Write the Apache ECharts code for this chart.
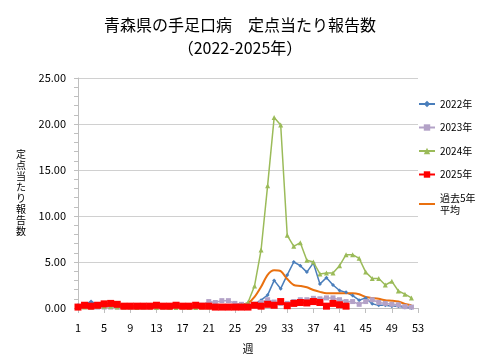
<!DOCTYPE html>
<html><head><meta charset="utf-8">
<script src="https://cdn.jsdelivr.net/npm/echarts@6/dist/echarts.min.js"></script>
<style>html,body{margin:0;padding:0;background:#fff}#c{width:480px;height:360px}</style>
</head><body><div id="c"></div>
<script>
const weeks = Array.from({length:53},(_,i)=>String(i+1));
const y2022 = [0.3,0.4,0.7,0.4,0.3,0.2,0.2,0.1,0.1,0.1,0.1,0.1,0.1,0.1,0.1,0.1,0.1,0.1,0.0,0.1,0.1,0.1,0.1,0.1,0.1,0.2,0.3,0.4,0.85,1.4,3.0,2.1,3.6,5.0,4.6,3.9,4.9,2.6,3.3,2.5,1.9,1.7,1.35,0.85,1.1,0.45,0.3,0.3,0.2,0.2,0.05,0.0];
const y2023 = [0.1,0.15,0.1,0.1,0.1,0.1,0.1,0.1,0.1,0.1,0.1,0.1,0.1,0.1,0.1,0.15,0.1,0.1,0.2,0.3,0.7,0.6,0.8,0.8,0.5,0.4,0.3,0.4,0.6,0.9,0.65,0.5,0.5,0.7,0.9,0.9,1.05,1.0,1.1,1.1,0.9,0.7,0.7,0.4,0.7,0.9,0.6,0.5,0.4,0.35,0.15,0.1];
const y2024 = [0.1,0.1,0.1,0.15,0.2,0.2,0.1,0.1,0.1,0.05,0.1,0.1,0.05,0.1,0.05,0.05,0.1,0.05,0.05,0.1,0.1,0.1,0.1,0.15,0.2,0.3,0.6,2.4,6.3,13.3,20.7,19.9,7.9,6.7,7.1,5.2,5.0,3.7,3.8,3.8,4.6,5.8,5.8,5.4,3.9,3.2,3.2,2.5,2.9,1.85,1.5,1.1];
const y2025 = [0.1,0.3,0.2,0.3,0.45,0.5,0.4,0.2,0.2,0.2,0.2,0.2,0.3,0.2,0.2,0.3,0.2,0.2,0.3,0.2,0.2,0.1,0.1,0.1,0.1,0.1,0.1,0.3,0.2,0.4,0.3,0.7,0.25,0.5,0.6,0.55,0.7,0.6,0.2,0.5,0.35,0.2];
const avg5 = [0.3,0.35,0.4,0.35,0.35,0.3,0.3,0.25,0.2,0.2,0.2,0.2,0.2,0.2,0.2,0.2,0.2,0.2,0.2,0.2,0.25,0.25,0.3,0.3,0.3,0.3,0.5,1.2,2.3,3.6,4.1,4.0,3.15,2.5,2.4,2.25,1.95,1.75,1.6,1.6,1.6,1.6,1.6,1.5,1.2,1.1,1.0,0.85,0.8,0.7,0.45,0.3];
const yTicks = [0,5,10,15,20,25];

const chart = echarts.init(document.getElementById('c'));
const ff = '"Noto Sans CJK JP","Noto Sans",sans-serif';
chart.setOption({
  animation:false,
  textStyle:{fontFamily:ff},
  title:{text:'青森県の手足口病　定点当たり報告数\n（2022-2025年）',left:'center',top:8,
    textStyle:{fontSize:16,fontWeight:'normal',color:'#000',lineHeight:23,fontFamily:ff}},
  grid:{left:78,right:62,top:78,bottom:52},
  legend:{orient:'vertical',left:413,top:93,itemGap:11.5,itemWidth:16,itemHeight:8,
    textStyle:{fontSize:10,color:'#000',lineHeight:12},
    data:['2022年','2023年','2024年','2025年',{name:'過去5年\n平均',itemStyle:{opacity:0}}]},
  xAxis:{type:'category',data:weeks,boundaryGap:false,
    name:'週',nameLocation:'middle',nameGap:35,nameTextStyle:{fontSize:11,color:'#000'},
    axisLine:{lineStyle:{color:'#bfbfbf'}},
    axisTick:{show:true,interval:3,alignWithLabel:true,lineStyle:{color:'#bfbfbf'}},
    axisLabel:{interval:3,fontSize:11,color:'#000',margin:14}},
  yAxis:{type:'value',min:yTicks[0],max:yTicks[yTicks.length-1],interval:5,
    name:'定\n点\n当\nた\nり\n報\n告\n数',nameLocation:'middle',nameRotate:0,nameGap:52,
    nameTextStyle:{fontSize:10,color:'#000',lineHeight:11},
    axisLine:{show:true,lineStyle:{color:'#bfbfbf'}},
    axisTick:{show:true,length:4,lineStyle:{color:'#bfbfbf'}},
    minorTick:{show:true,splitNumber:5,length:4,lineStyle:{color:'#bfbfbf'}},
    splitLine:{lineStyle:{color:'#d0d0d0'}},
    axisLabel:{fontSize:11,color:'#000',margin:12,formatter:v=>v.toFixed(2)}},
  series:[
    {name:'2022年',type:'line',data:y2022,symbol:'diamond',symbolSize:4,showAllSymbol:true,
      itemStyle:{color:'#4a7ebb'},lineStyle:{width:1.5,color:'#4a7ebb'}},
    {name:'2023年',type:'line',data:y2023,symbol:'rect',symbolSize:5,showAllSymbol:true,
      itemStyle:{color:'#b3a2c7'},lineStyle:{width:1.5,color:'#b3a2c7'}},
    {name:'2024年',type:'line',data:y2024,symbol:'triangle',symbolSize:5,showAllSymbol:true,
      itemStyle:{color:'#9bbb59'},lineStyle:{width:1.5,color:'#9bbb59'}},
    {name:'2025年',type:'line',data:y2025,symbol:'rect',symbolSize:7,showAllSymbol:true,
      itemStyle:{color:'#ff0000'},lineStyle:{width:2,color:'#ff0000'}},
    {name:'過去5年\n平均',type:'line',data:avg5,symbol:'none',smooth:0.3,
      itemStyle:{color:'#e9700f'},lineStyle:{width:2,color:'#e9700f'}}
  ]
});
</script></body></html>
